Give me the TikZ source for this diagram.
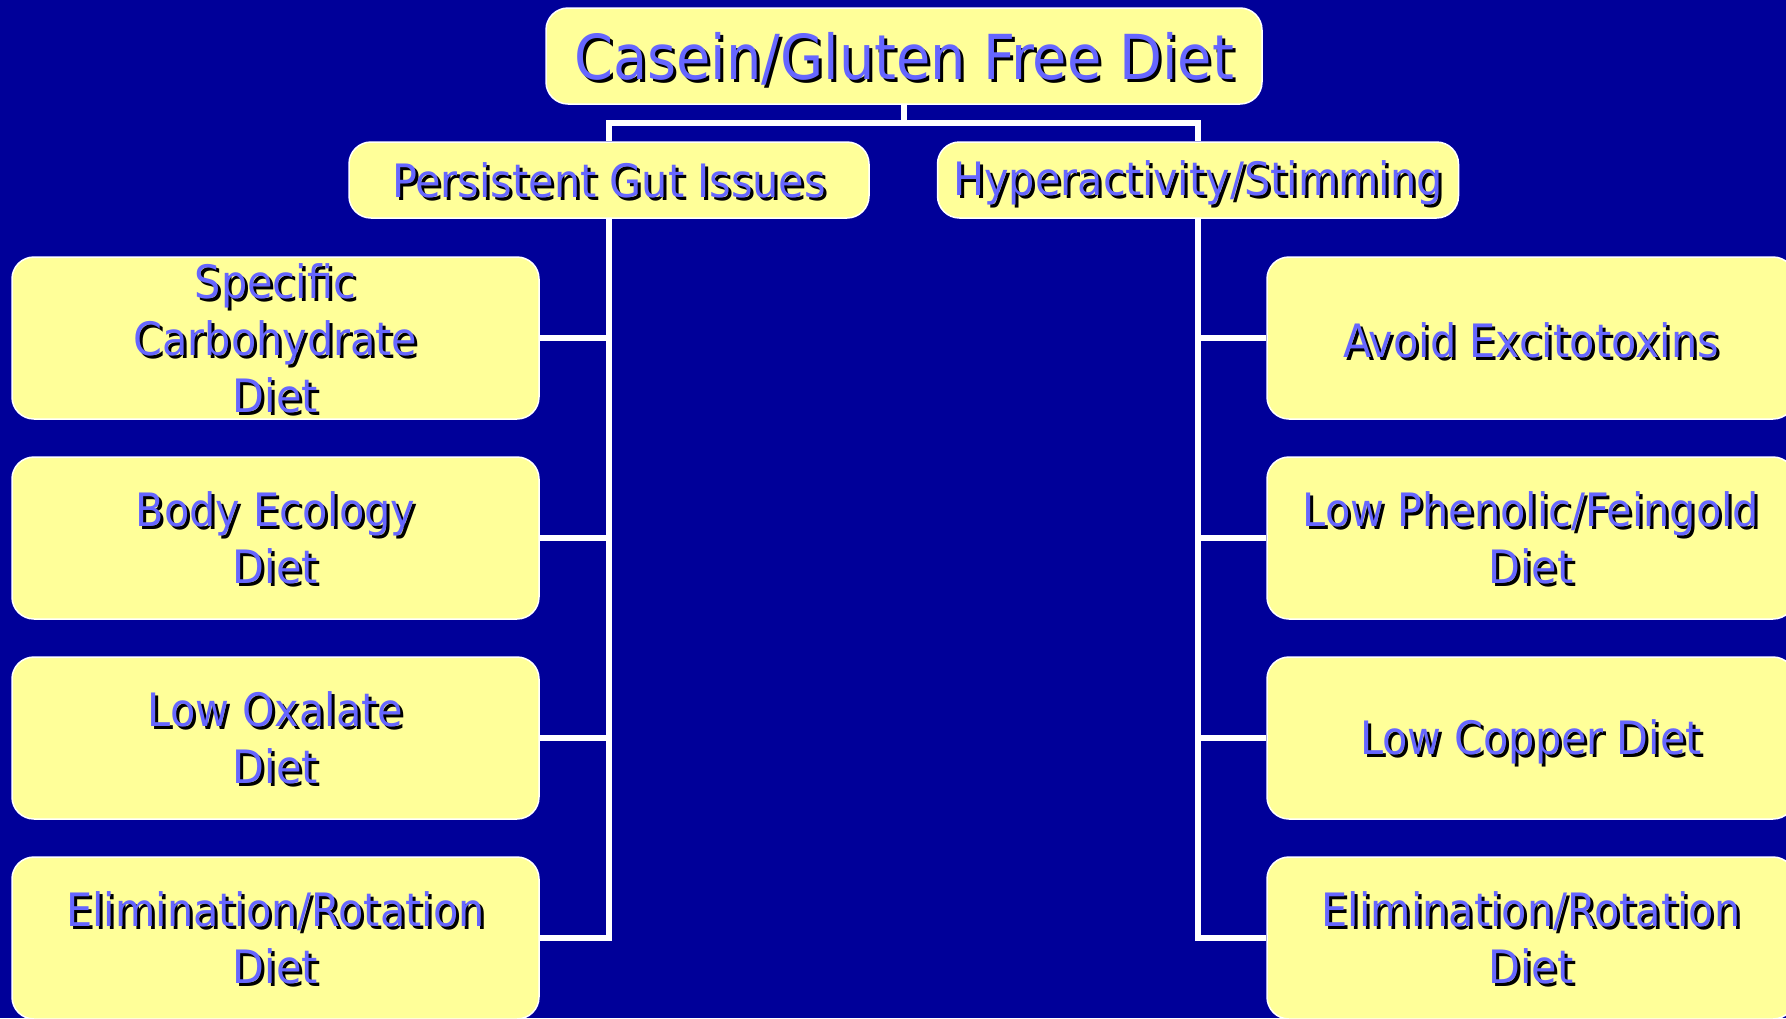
\documentclass[tikz,border=0pt]{standalone}
\usepackage{fontspec}
\setmainfont{DejaVu Sans Condensed}
\definecolor{bg}{RGB}{0,0,153}
\definecolor{boxy}{RGB}{255,255,153}
\definecolor{tblue}{RGB}{102,102,255}
\newcommand\shtext[4][0]{%
  \node[lbl,#3,text=black] (#2-s) at ([shift={(3,3+#1)}]#2.center) {#4};
  \node[lbl,#3,text=tblue] (#2-t) at ([shift={(0,#1)}]#2.center) {#4};}
\begin{document}
\begin{tikzpicture}[x=1pt,y=-1pt,
  box/.style={draw=white, line width=1.5pt, fill=boxy, rounded corners=22pt, inner sep=0pt},
  conn/.style={draw=white, line width=6pt},
  lbl/.style={align=center, inner sep=0pt, font=\fontsize{46}{57}\selectfont},
  big/.style={font=\fontsize{62}{70}\selectfont}]
\fill[bg] (0,0) rectangle (1786,1018);
\useasboundingbox (0,0) rectangle (1786,1018);
\coordinate (j) at (904,123);
% boxes
\node[box, minimum width=716pt, minimum height=96pt] (top) at (904,56) {};
\node[box, minimum width=520pt, minimum height=76pt] (gut) at (609,180) {};
\node[box, minimum width=521pt, minimum height=76pt] (hyp) at (1198,180) {};
\foreach \n/\y in {1/338,2/538,3/738,4/938}{
  \node[box, minimum width=527pt, minimum height=162pt] (l\n) at (275.5,\y) {};
  \node[box, minimum width=528pt, minimum height=162pt] (r\n) at (1531,\y) {};
}
\draw[conn] (top.south) -- (j);
\draw[conn] (gut.north) |- (j) -| (hyp.north);
\draw[conn] (gut.south) |- (l4.east);
\draw[conn] (hyp.south) |- (r4.west);
\foreach \n in {1,2,3}{
  \draw[conn] (l\n.east) -- (l\n.east -| gut.south);
  \draw[conn] (r\n.west) -- (r\n.west -| hyp.south);
}
% texts
\shtext[3]{top}{big}{Casein/Gluten Free Diet}
\shtext{gut}{}{Persistent Gut Issues}
\shtext[3]{hyp}{}{Hyperactivity/Stimming}
\shtext{l1}{}{Specific\\Carbohydrate\\Diet}
\shtext{l2}{}{Body Ecology\\Diet}
\shtext{l3}{}{Low Oxalate\\Diet}
\shtext{l4}{}{Elimination/Rotation\\Diet}
\shtext[2]{r1}{}{Avoid Excitotoxins}
\shtext{r2}{}{Low Phenolic/Feingold\\Diet}
\shtext[4]{r3}{}{Low Copper Diet}
\shtext{r4}{}{Elimination/Rotation\\Diet}
\end{tikzpicture}
\end{document}
